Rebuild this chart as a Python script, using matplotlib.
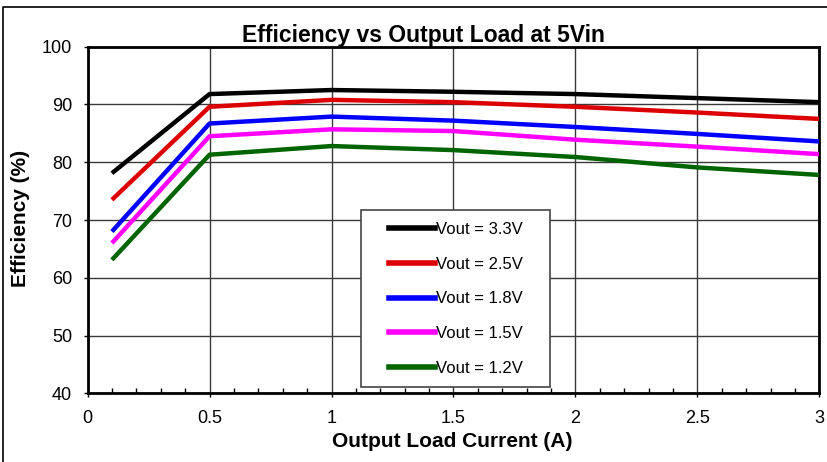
import matplotlib
matplotlib.use("Agg")
import matplotlib.pyplot as plt
from matplotlib.patches import Rectangle
from matplotlib.lines import Line2D
from matplotlib.ticker import MultipleLocator, FuncFormatter

plt.rcParams["font.family"] = ["Liberation Sans", "DejaVu Sans"]

load_current = [0.1, 0.5, 1.0, 1.5, 2.0, 2.5, 3.0]
eff_3v3 = [78.1, 91.8, 92.5, 92.2, 91.8, 91.1, 90.4]
eff_2v5 = [73.5, 89.6, 90.8, 90.4, 89.6, 88.6, 87.5]
eff_1v8 = [68.0, 86.7, 87.9, 87.2, 86.1, 84.9, 83.6]
eff_1v5 = [66.0, 84.5, 85.7, 85.4, 83.9, 82.7, 81.4]
eff_1v2 = [63.1, 81.3, 82.8, 82.1, 80.9, 79.1, 77.8]

series = [
    ("Vout = 3.3V", eff_3v3, "#000000"),
    ("Vout = 2.5V", eff_2v5, "#dd0000"),
    ("Vout = 1.8V", eff_1v8, "#0000ff"),
    ("Vout = 1.5V", eff_1v5, "#ff00ff"),
    ("Vout = 1.2V", eff_1v2, "#006400"),
]

fig = plt.figure(figsize=(8.28, 4.62), dpi=100)
ax = fig.add_axes([0.1057, 0.1487, 0.8840, 0.7502])

for label, vals, color in series:
    ax.plot(load_current, vals, color=color, lw=3.2, label=label,
            solid_capstyle="butt", zorder=3)

ax.set_xlim(0, 3)
ax.set_ylim(40, 100)
ax.xaxis.set_major_locator(MultipleLocator(0.5))
ax.xaxis.set_minor_locator(MultipleLocator(0.1))
ax.yaxis.set_major_locator(MultipleLocator(10))
ax.xaxis.set_major_formatter(FuncFormatter(lambda v, p: "{:g}".format(v)))
ax.grid(True, which="major", color="#3a3a3a", lw=1.0, zorder=1)

for sp in ax.spines.values():
    sp.set_linewidth(2.0)
    sp.set_color("black")

ax.tick_params(axis="x", which="major", direction="out", length=3,
               width=1, labelsize=13, pad=9)
ax.tick_params(axis="x", which="minor", direction="in", length=3.5, width=1)
ax.tick_params(axis="y", which="major", direction="out", length=3,
               width=1, labelsize=13, pad=8)

# opaque legend box
box = Rectangle((0.373, 0.018), 0.259, 0.511, transform=ax.transAxes,
                facecolor="white", edgecolor="#444444", lw=1.2, zorder=4)
ax.add_patch(box)
handles = [Line2D([], [], color=c, lw=4) for _, _, c in series]
leg = ax.legend(handles, [s[0] for s in series], loc="center",
                bbox_to_anchor=(0.5034, 0.2725), frameon=False,
                fontsize=12, handlelength=2.8, handletextpad=0.05,
                labelspacing=1.19)
leg.set_zorder(5)

fig.text(423 / 828, 1 - 41.7 / 462, "Efficiency vs Output Load at 5Vin",
         ha="center", va="baseline", fontsize=16.5, fontweight="bold")
fig.text(452.5 / 828, 1 - 446.7 / 462, "Output Load Current (A)",
         ha="center", va="baseline", fontsize=15, fontweight="bold")
fig.text(21 / 828, 1 - 218 / 462, "Efficiency (%)", rotation=90,
         ha="center", va="center", fontsize=15, fontweight="bold")

# outer frame (top and left edges visible)
fig.add_artist(Line2D([3 / 828, 3 / 828, 1.0], [0.0, 1 - 7 / 462, 1 - 7 / 462],
                      transform=fig.transFigure, color="black", lw=1.2))

fig.savefig("out.png", dpi=100)
